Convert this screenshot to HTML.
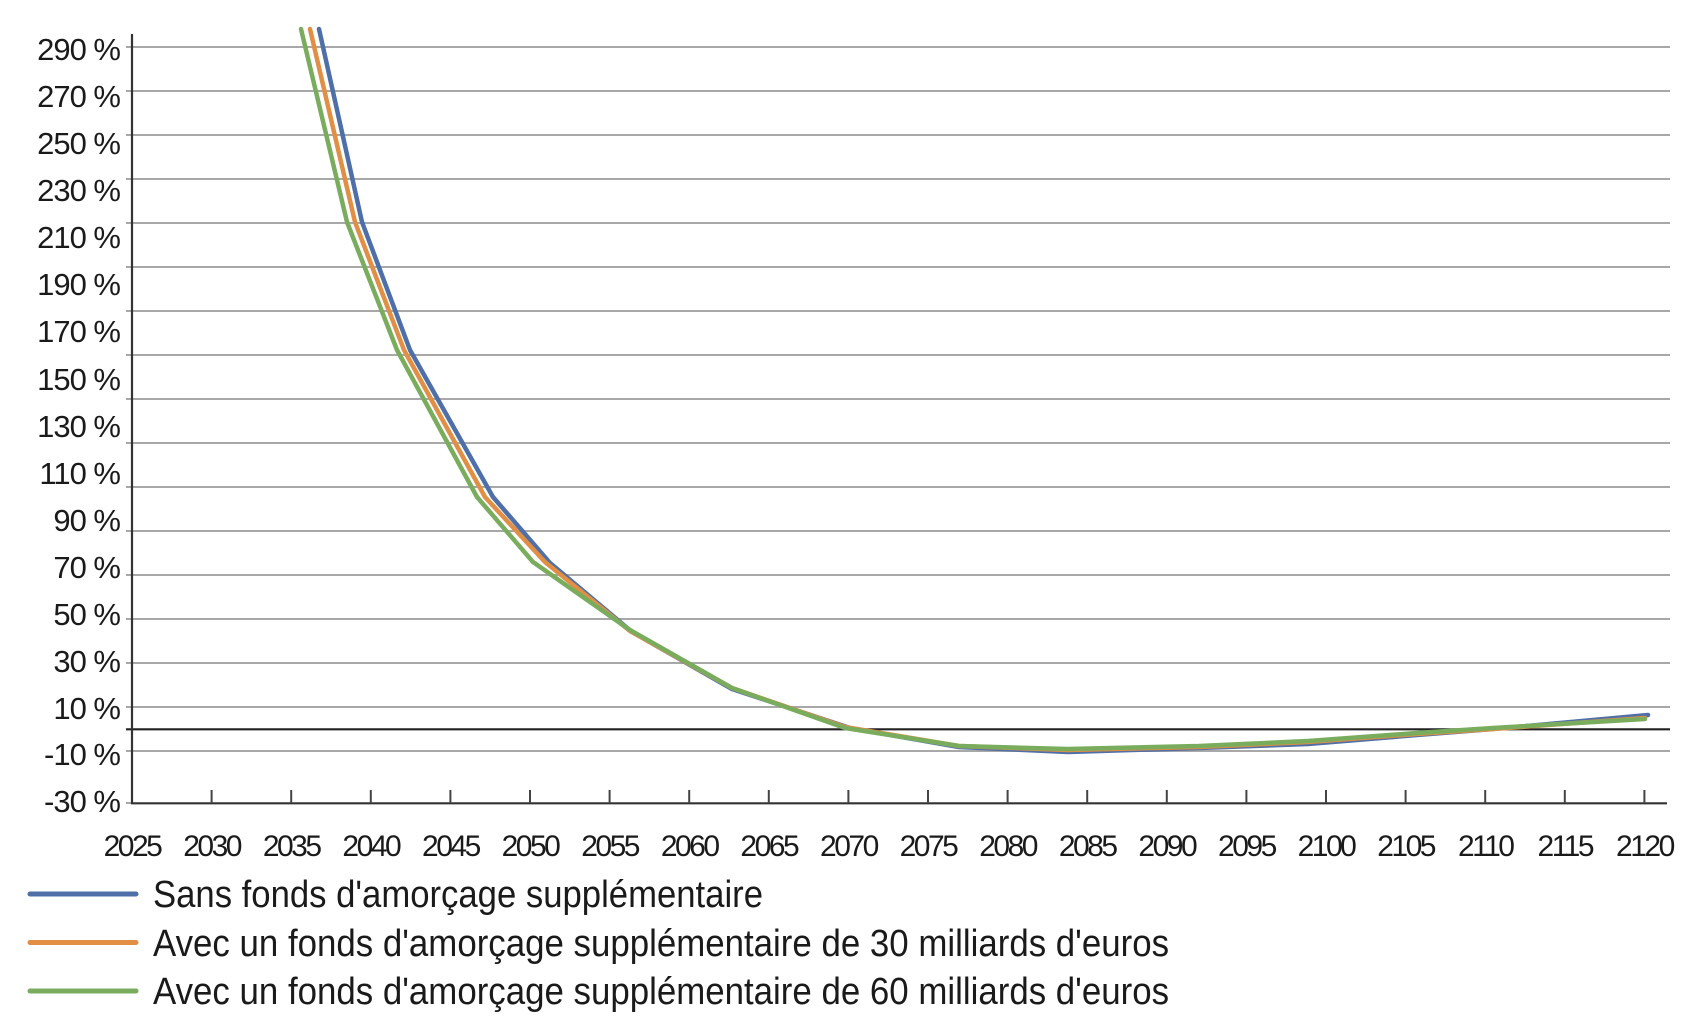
<!DOCTYPE html>
<html><head><meta charset="utf-8"><style>
html,body{margin:0;padding:0;background:#fff;}
svg{display:block;}
text{font-family:"Liberation Sans",sans-serif;fill:#1a1a1a;}
</style></head><body>
<svg width="1700" height="1034" viewBox="0 0 1700 1034" xmlns="http://www.w3.org/2000/svg">
<g stroke="#a8a8a8" stroke-width="2">
<line x1="126" y1="47" x2="1670" y2="47"/>
<line x1="126" y1="91" x2="1670" y2="91"/>
<line x1="126" y1="135" x2="1670" y2="135"/>
<line x1="126" y1="179" x2="1670" y2="179"/>
<line x1="126" y1="223" x2="1670" y2="223"/>
<line x1="126" y1="267" x2="1670" y2="267"/>
<line x1="126" y1="311" x2="1670" y2="311"/>
<line x1="126" y1="355" x2="1670" y2="355"/>
<line x1="126" y1="399" x2="1670" y2="399"/>
<line x1="126" y1="443" x2="1670" y2="443"/>
<line x1="126" y1="487" x2="1670" y2="487"/>
<line x1="126" y1="531" x2="1670" y2="531"/>
<line x1="126" y1="575" x2="1670" y2="575"/>
<line x1="126" y1="619" x2="1670" y2="619"/>
<line x1="126" y1="663" x2="1670" y2="663"/>
<line x1="126" y1="707" x2="1670" y2="707"/>
<line x1="126" y1="751" x2="1670" y2="751"/>
<line x1="126" y1="803" x2="132" y2="803"/>
</g>
<line x1="126" y1="729.3" x2="1670" y2="729.3" stroke="#222" stroke-width="2.2"/>
<line x1="132" y1="34" x2="132" y2="804" stroke="#333" stroke-width="2.2"/>
<line x1="131" y1="803.3" x2="1667" y2="803.3" stroke="#333" stroke-width="2.2"/>
<g stroke="#444" stroke-width="2">
<line x1="211.6" y1="790" x2="211.6" y2="803"/><line x1="291.2" y1="790" x2="291.2" y2="803"/>
<line x1="370.8" y1="790" x2="370.8" y2="803"/><line x1="450.4" y1="790" x2="450.4" y2="803"/>
<line x1="530" y1="790" x2="530" y2="803"/><line x1="609.6" y1="790" x2="609.6" y2="803"/>
<line x1="689.2" y1="790" x2="689.2" y2="803"/><line x1="768.8" y1="790" x2="768.8" y2="803"/>
<line x1="848.4" y1="790" x2="848.4" y2="803"/><line x1="928" y1="790" x2="928" y2="803"/>
<line x1="1007.6" y1="790" x2="1007.6" y2="803"/><line x1="1087.2" y1="790" x2="1087.2" y2="803"/>
<line x1="1166.8" y1="790" x2="1166.8" y2="803"/><line x1="1246.4" y1="790" x2="1246.4" y2="803"/>
<line x1="1326" y1="790" x2="1326" y2="803"/><line x1="1405.6" y1="790" x2="1405.6" y2="803"/>
<line x1="1485.2" y1="790" x2="1485.2" y2="803"/><line x1="1564.8" y1="790" x2="1564.8" y2="803"/>
<line x1="1644.4" y1="790" x2="1644.4" y2="803"/>
</g>
<g font-size="31" text-anchor="end" letter-spacing="-1">
<text x="120" y="60">290 %</text>
<text x="120" y="107">270 %</text>
<text x="120" y="154">250 %</text>
<text x="120" y="201">230 %</text>
<text x="120" y="248">210 %</text>
<text x="120" y="295">190 %</text>
<text x="120" y="342">170 %</text>
<text x="120" y="390">150 %</text>
<text x="120" y="437">130 %</text>
<text x="120" y="484">110 %</text>
<text x="120" y="531">90 %</text>
<text x="120" y="578">70 %</text>
<text x="120" y="625">50 %</text>
<text x="120" y="672">30 %</text>
<text x="120" y="719">10 %</text>
<text x="120" y="765">-10 %</text>
<text x="120" y="812">-30 %</text>
</g>
<g font-size="30" text-anchor="middle" letter-spacing="-2.5">
<text x="132" y="856">2025</text><text x="211.6" y="856">2030</text><text x="291.2" y="856">2035</text>
<text x="370.8" y="856">2040</text><text x="450.4" y="856">2045</text><text x="530" y="856">2050</text>
<text x="609.6" y="856">2055</text><text x="689.2" y="856">2060</text><text x="768.8" y="856">2065</text>
<text x="848.4" y="856">2070</text><text x="928" y="856">2075</text><text x="1007.6" y="856">2080</text>
<text x="1087.2" y="856">2085</text><text x="1166.8" y="856">2090</text><text x="1246.4" y="856">2095</text>
<text x="1326" y="856">2100</text><text x="1405.6" y="856">2105</text><text x="1485.2" y="856">2110</text>
<text x="1564.8" y="856">2115</text><text x="1644.4" y="856">2120</text>
</g>
<g fill="none" stroke-width="4.5" stroke-linejoin="round" stroke-linecap="round">
<polyline stroke="#4e6fa8" points="319,29 362,222 410,350 493,497 550,563 632,632 732,689 850,728 959,747 1068,752 1199,748 1308,744 1417,735 1493,729 1648,715"/>
<polyline stroke="#e08f45" points="310,29 355,222 404,350 485,497 545,562 630,631 732,688 845,727 959,746 1068,750 1199,747 1308,742 1417,734 1493,729 1645,718"/>
<polyline stroke="#79ad5d" points="301,29 347,222 397,350 477,497 533,562 630,630 732,688 845,728 959,746 1068,749 1199,746 1308,741 1417,733 1493,728 1645,719"/>
</g>
<g stroke-width="5" stroke-linecap="round">
<line x1="30" y1="894" x2="136" y2="894" stroke="#4e6fa8"/>
<line x1="30" y1="942.5" x2="136" y2="942.5" stroke="#e08f45"/>
<line x1="30" y1="991" x2="136" y2="991" stroke="#79ad5d"/>
</g>
<g font-size="38">
<text x="153" y="907" textLength="610" lengthAdjust="spacingAndGlyphs">Sans fonds d'amorçage supplémentaire</text>
<text x="153" y="956" textLength="1016" lengthAdjust="spacingAndGlyphs">Avec un fonds d'amorçage supplémentaire de 30 milliards d'euros</text>
<text x="153" y="1004" textLength="1016" lengthAdjust="spacingAndGlyphs">Avec un fonds d'amorçage supplémentaire de 60 milliards d'euros</text>
</g>
</svg>
</body></html>
